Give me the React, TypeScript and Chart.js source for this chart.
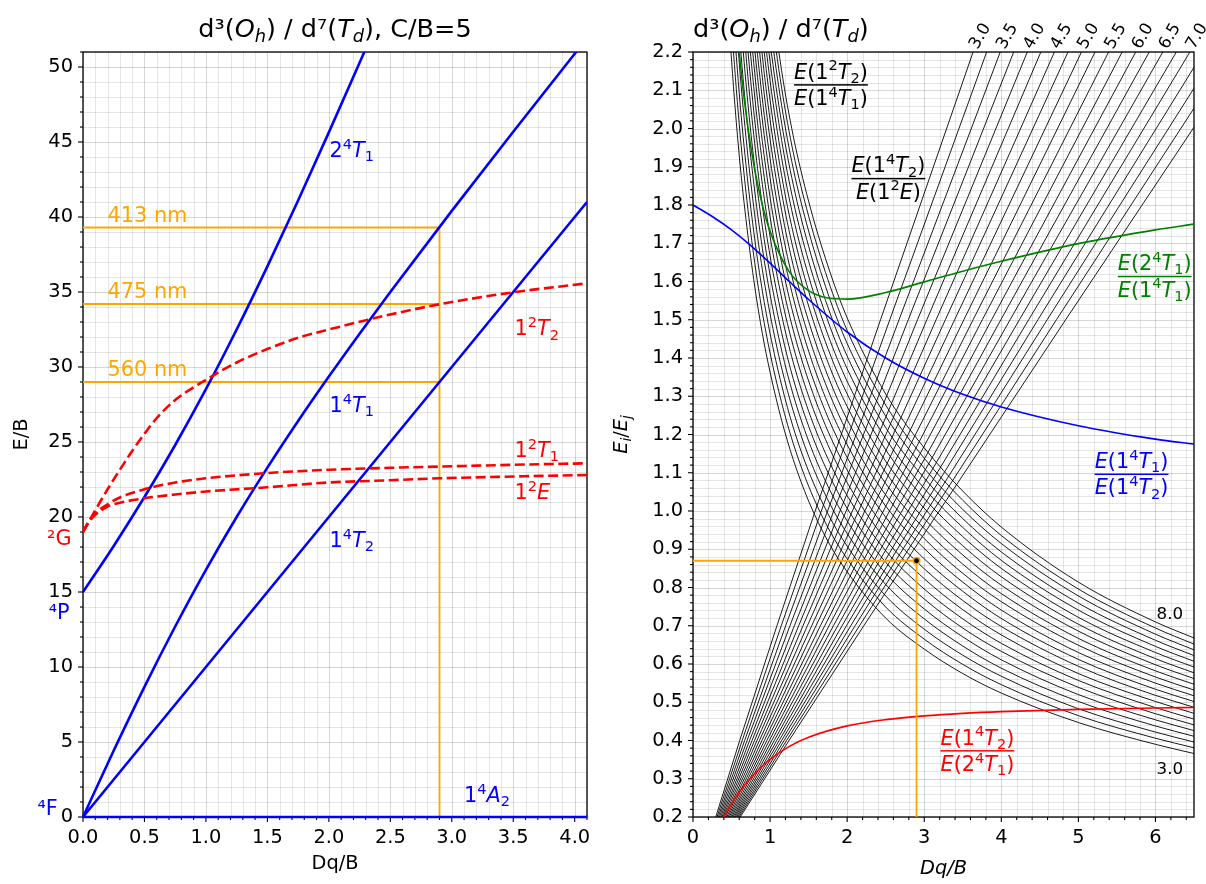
import React, { useEffect, useRef } from "react";
import { Chart, registerables } from "chart.js";

Chart.register(...registerables);

const FONT = '"DejaVu Sans", sans-serif';
const TICK = 19.4;
const LABEL = 19.4;
const ANN = 20.8;
const TITLE = 25.5;
const SMALL = 16.7;

// ---------------- Left panel (C/B = 5) ----------------
const leftXTicks = [0, 0.5, 1, 1.5, 2, 2.5, 3, 3.5, 4];
const leftXTickLabels = ["0.0", "0.5", "1.0", "1.5", "2.0", "2.5", "3.0", "3.5", "4.0"];
const leftYTicks = [0, 5, 10, 15, 20, 25, 30, 35, 40, 45, 50];
const leftYTickLabels = ["0", "5", "10", "15", "20", "25", "30", "35", "40", "45", "50"];

const a2Dq = [0, 4.1];
const a2E = [0, 0];
const q4T2Dq = [0, 1, 2, 3, 4.1];
const q4T2E = [0, 10, 20, 30, 41];
const q4T1aDq = [0, 0.25, 0.5, 0.75, 1, 1.25, 1.5, 1.75, 2, 2.25, 2.5, 3, 3.5, 4, 4.1];
const q4T1aE = [0, 4.43, 8.68, 12.7, 16.48, 20.0, 23.29, 26.4, 29.36, 32.22, 35.0, 40.41, 45.68, 50.88, 51.91];
const q4T1bDq = [0, 0.25, 0.5, 0.75, 1, 1.25, 1.5, 1.75, 2, 2.25, 2.5];
const q4T1bE = [15, 18.07, 21.33, 24.8, 28.52, 32.5, 36.71, 41.1, 45.64, 50.28, 55.0];
const d2EDq = [0, 0.05, 0.1, 0.2, 0.3, 0.5, 0.75, 1.0, 1.5, 2.0, 2.5, 2.9, 3.5, 4.1];
const d2EE = [19.0, 19.7, 20.15, 20.7, 20.95, 21.25, 21.5, 21.7, 21.98, 22.3, 22.45, 22.58, 22.7, 22.8];
const d2T1Dq = [0, 0.05, 0.1, 0.2, 0.3, 0.5, 0.75, 1.0, 1.5, 2.0, 2.5, 2.9, 3.5, 4.1];
const d2T1E = [19.0, 19.75, 20.25, 20.85, 21.3, 21.85, 22.3, 22.58, 22.93, 23.15, 23.28, 23.36, 23.48, 23.58];
const d2T2Dq = [0, 0.1, 0.2, 0.3, 0.4, 0.5, 0.6, 0.75, 0.9, 1.0, 1.25, 1.5, 1.75, 2.0, 2.5, 2.9, 3.5, 4.1];
const d2T2E = [19.0, 20.45, 21.85, 23.15, 24.4, 25.55, 26.6, 27.8, 28.65, 29.15, 30.3, 31.2, 31.95, 32.5, 33.5, 34.18, 34.98, 35.58];

const bandLabels = ["413 nm", "475 nm", "560 nm"];
const bandEnergies = [39.3, 34.2, 29.0];
const bandDq = 2.9;

// ---------------- Right panel (ratios) ----------------
const rightXTicks = [0, 1, 2, 3, 4, 5, 6];
const rightXTickLabels = ["0", "1", "2", "3", "4", "5", "6"];
const rightYTicks = [0.2, 0.3, 0.4, 0.5, 0.6, 0.7, 0.8, 0.9, 1.0, 1.1, 1.2, 1.3, 1.4, 1.5, 1.6, 1.7, 1.8, 1.9, 2.0, 2.1, 2.2];
const rightYTickLabels = ["0.2", "0.3", "0.4", "0.5", "0.6", "0.7", "0.8", "0.9", "1.0", "1.1", "1.2", "1.3", "1.4", "1.5", "1.6", "1.7", "1.8", "1.9", "2.0", "2.1", "2.2"];

const cbValues = [3.0, 3.25, 3.5, 3.75, 4.0, 4.25, 4.5, 4.75, 5.0, 5.25, 5.5, 5.75, 6.0, 6.25, 6.5, 6.75, 7.0, 7.25, 7.5, 7.75, 8.0];
const cbTopLabels = ["3.0", "3.5", "4.0", "4.5", "5.0", "5.5", "6.0", "6.5", "7.0"];

// E(1²T2)/E(1⁴T1): rows at decDq, one column per C/B value
const decDq = [0.45, 0.5, 0.6, 0.7, 0.8, 0.9, 1.0, 1.15, 1.3, 1.5, 1.75, 2.0, 2.5, 3.0, 3.5, 4.0, 5.0, 6.0, 6.5];
const decRatios = [
  [2.340, 2.447, 2.554, 2.660, 2.767, 2.874, 2.981, 3.087, 3.194, 3.301, 3.408, 3.514, 3.621, 3.728, 3.835, 3.941, 4.048, 4.155, 4.262, 4.369, 4.475],
  [2.179, 2.275, 2.372, 2.468, 2.565, 2.661, 2.758, 2.854, 2.951, 3.048, 3.144, 3.241, 3.337, 3.434, 3.530, 3.627, 3.723, 3.820, 3.916, 4.013, 4.109],
  [1.929, 2.011, 2.092, 2.173, 2.254, 2.335, 2.417, 2.498, 2.579, 2.660, 2.741, 2.823, 2.904, 2.985, 3.066, 3.147, 3.228, 3.310, 3.391, 3.472, 3.553],
  [1.741, 1.811, 1.881, 1.952, 2.022, 2.092, 2.163, 2.233, 2.303, 2.373, 2.444, 2.514, 2.584, 2.654, 2.725, 2.795, 2.865, 2.936, 3.006, 3.076, 3.147],
  [1.588, 1.650, 1.712, 1.775, 1.837, 1.899, 1.961, 2.023, 2.085, 2.147, 2.209, 2.271, 2.334, 2.396, 2.458, 2.520, 2.582, 2.644, 2.706, 2.769, 2.831],
  [1.464, 1.519, 1.575, 1.631, 1.687, 1.743, 1.798, 1.854, 1.910, 1.966, 2.022, 2.077, 2.133, 2.189, 2.245, 2.301, 2.356, 2.412, 2.468, 2.524, 2.580],
  [1.363, 1.413, 1.464, 1.515, 1.566, 1.617, 1.667, 1.718, 1.769, 1.820, 1.871, 1.921, 1.972, 2.023, 2.074, 2.125, 2.175, 2.226, 2.277, 2.328, 2.379],
  [1.237, 1.283, 1.329, 1.374, 1.420, 1.466, 1.512, 1.557, 1.603, 1.649, 1.694, 1.740, 1.786, 1.832, 1.877, 1.923, 1.969, 2.014, 2.060, 2.106, 2.151],
  [1.135, 1.177, 1.219, 1.262, 1.304, 1.346, 1.389, 1.431, 1.473, 1.515, 1.558, 1.600, 1.642, 1.685, 1.727, 1.769, 1.811, 1.854, 1.896, 1.938, 1.981],
  [1.026, 1.065, 1.104, 1.143, 1.183, 1.222, 1.261, 1.300, 1.340, 1.379, 1.418, 1.457, 1.496, 1.536, 1.575, 1.614, 1.653, 1.692, 1.732, 1.771, 1.810],
  [0.921, 0.957, 0.993, 1.029, 1.065, 1.101, 1.137, 1.173, 1.209, 1.245, 1.281, 1.317, 1.353, 1.389, 1.425, 1.461, 1.497, 1.533, 1.569, 1.605, 1.641],
  [0.841, 0.875, 0.908, 0.941, 0.974, 1.007, 1.040, 1.074, 1.107, 1.140, 1.173, 1.206, 1.239, 1.273, 1.306, 1.339, 1.372, 1.405, 1.438, 1.472, 1.505],
  [0.720, 0.749, 0.778, 0.808, 0.837, 0.866, 0.896, 0.925, 0.954, 0.984, 1.013, 1.042, 1.072, 1.101, 1.130, 1.160, 1.189, 1.218, 1.248, 1.277, 1.306],
  [0.639, 0.665, 0.691, 0.718, 0.744, 0.770, 0.796, 0.823, 0.849, 0.875, 0.902, 0.928, 0.954, 0.980, 1.007, 1.033, 1.059, 1.086, 1.112, 1.138, 1.165],
  [0.575, 0.599, 0.623, 0.647, 0.671, 0.694, 0.718, 0.742, 0.766, 0.790, 0.814, 0.837, 0.861, 0.885, 0.909, 0.933, 0.957, 0.980, 1.004, 1.028, 1.052],
  [0.524, 0.546, 0.568, 0.589, 0.611, 0.633, 0.654, 0.676, 0.698, 0.719, 0.741, 0.763, 0.784, 0.806, 0.828, 0.850, 0.871, 0.893, 0.915, 0.936, 0.958],
  [0.447, 0.465, 0.483, 0.502, 0.520, 0.539, 0.557, 0.575, 0.594, 0.612, 0.630, 0.649, 0.667, 0.686, 0.704, 0.722, 0.741, 0.759, 0.778, 0.796, 0.814],
  [0.390, 0.406, 0.422, 0.438, 0.454, 0.470, 0.486, 0.502, 0.518, 0.534, 0.550, 0.566, 0.582, 0.598, 0.614, 0.630, 0.646, 0.662, 0.678, 0.694, 0.710],
  [0.366, 0.381, 0.396, 0.411, 0.426, 0.441, 0.456, 0.471, 0.487, 0.502, 0.517, 0.532, 0.547, 0.562, 0.577, 0.592, 0.607, 0.622, 0.637, 0.652, 0.668],
];

// E(1⁴T2)/E(1²E): Dq/B positions at each ratio level, one column per C/B value
const incLevels = [0.2, 0.4, 0.7, 1.0, 1.5, 2.2];
const incDq = [
  [0.295, 0.311, 0.327, 0.343, 0.359, 0.375, 0.390, 0.406, 0.422, 0.438, 0.454, 0.470, 0.486, 0.502, 0.518, 0.534, 0.549, 0.565, 0.581, 0.597, 0.613],
  [0.606, 0.638, 0.670, 0.702, 0.734, 0.766, 0.798, 0.830, 0.862, 0.894, 0.926, 0.958, 0.990, 1.022, 1.054, 1.086, 1.118, 1.150, 1.182, 1.214, 1.246],
  [1.089, 1.145, 1.202, 1.258, 1.315, 1.371, 1.427, 1.484, 1.540, 1.596, 1.653, 1.709, 1.765, 1.822, 1.878, 1.934, 1.991, 2.047, 2.103, 2.160, 2.216],
  [1.585, 1.665, 1.746, 1.826, 1.907, 1.987, 2.068, 2.148, 2.229, 2.309, 2.390, 2.470, 2.550, 2.631, 2.711, 2.792, 2.872, 2.953, 3.033, 3.114, 3.194],
  [2.433, 2.553, 2.673, 2.793, 2.913, 3.034, 3.154, 3.274, 3.394, 3.514, 3.634, 3.754, 3.874, 3.994, 4.114, 4.235, 4.355, 4.475, 4.595, 4.715, 4.835],
  [3.634, 3.810, 3.986, 4.161, 4.337, 4.513, 4.689, 4.865, 5.040, 5.216, 5.392, 5.568, 5.744, 5.919, 6.095, 6.271, 6.447, 6.623, 6.798, 6.974, 7.150],
];

const greenDq = [0.5, 0.6, 0.7, 0.8, 0.9, 1.0, 1.25, 1.5, 1.75, 2.0, 2.5, 3.0, 3.5, 4.0, 5.0, 6.0, 6.5];
const greenRatio = [2.458, 2.199, 2.021, 1.893, 1.8, 1.731, 1.625, 1.576, 1.557, 1.554, 1.571, 1.599, 1.627, 1.653, 1.699, 1.735, 1.75];
const blueDq = [0, 0.25, 0.5, 0.75, 1.0, 1.25, 1.5, 2.0, 2.5, 3.0, 3.5, 4.0, 5.0, 6.0, 6.5];
const blueRatio = [1.8, 1.77, 1.735, 1.694, 1.648, 1.6, 1.553, 1.468, 1.4, 1.347, 1.305, 1.272, 1.223, 1.188, 1.175];
const redDq = [0.3, 0.4, 0.5, 0.6, 0.7, 0.8, 0.9, 1.0, 1.25, 1.5, 2.0, 2.5, 3.0, 3.5, 4.0, 5.0, 6.0, 6.5];
const redRatio = [0.16, 0.2, 0.2345, 0.2645, 0.2907, 0.3135, 0.3333, 0.3506, 0.3846, 0.4086, 0.4382, 0.4545, 0.4644, 0.471, 0.4755, 0.4814, 0.4851, 0.4864];

const markDq = 2.9;
const markRatio = 0.87;

// ---------------- helpers ----------------
type Seg = [string, string];

function fontFor(style: string, size: number) {
  const small = style.includes("^") || style.includes("_");
  const it = style.includes("i");
  return `${it ? "italic " : ""}${(small ? size * 0.7 : size).toFixed(2)}px ${FONT}`;
}
function richWidth(ctx: CanvasRenderingContext2D, segs: Seg[], size: number) {
  let w = 0;
  for (const [t, s] of segs) {
    ctx.font = fontFor(s, size);
    w += ctx.measureText(t).width;
  }
  return w;
}
function drawRich(ctx: CanvasRenderingContext2D, segs: Seg[], x: number, baseline: number, size: number, color: string, align = "left") {
  const w = richWidth(ctx, segs, size);
  let cx = align === "left" ? x : align === "center" ? x - w / 2 : x - w;
  ctx.fillStyle = color;
  ctx.textAlign = "left";
  ctx.textBaseline = "alphabetic";
  for (const [t, s] of segs) {
    ctx.font = fontFor(s, size);
    let dy = 0;
    if (s.includes("^")) dy = -0.4 * size;
    else if (s.includes("_")) dy = 0.2 * size;
    ctx.fillText(t, cx, baseline + dy);
    cx += ctx.measureText(t).width;
  }
  return w;
}
function drawFrac(ctx: CanvasRenderingContext2D, num: Seg[], den: Seg[], cx: number, barY: number, size: number, color: string) {
  const w = Math.max(richWidth(ctx, num, size), richWidth(ctx, den, size));
  drawRich(ctx, num, cx, barY - 0.3 * size, size, color, "center");
  drawRich(ctx, den, cx, barY + 0.97 * size, size, color, "center");
  ctx.fillStyle = color;
  ctx.fillRect(cx - w / 2, barY - 0.75, w, 1.5);
}
function pts(xs: number[], ys: number[]) {
  return xs.map((x, i) => ({ x, y: ys[i] }));
}
function steps(start: number, end: number, step: number) {
  const out: number[] = [];
  const n = Math.round((end - start) / step);
  for (let i = 0; i <= n; i++) {
    const v = start + i * step;
    if (v <= end + 1e-9) out.push(+v.toFixed(6));
  }
  return out;
}

function makeDeco(cfg: any) {
  return {
    id: "deco_" + cfg.name,
    beforeDatasetsDraw(chart: any) {
      const { ctx, chartArea: ca, scales } = chart;
      const xs = scales.x;
      const ys = scales.y;
      ctx.save();
      const isMajor = (v: number, arr: number[]) => arr.some((m) => Math.abs(m - v) < 1e-6);
      for (const v of steps(cfg.xMin, cfg.xMax, cfg.xMinor)) {
        const p = Math.round(xs.getPixelForValue(v)) + 0.5;
        ctx.strokeStyle = isMajor(v, cfg.xMajor) ? "rgba(0,0,0,0.16)" : "rgba(0,0,0,0.10)";
        ctx.lineWidth = 1;
        ctx.beginPath();
        ctx.moveTo(p, ca.top);
        ctx.lineTo(p, ca.bottom);
        ctx.stroke();
      }
      for (const v of steps(cfg.yMin, cfg.yMax, cfg.yMinor)) {
        const p = Math.round(ys.getPixelForValue(v)) + 0.5;
        ctx.strokeStyle = isMajor(v, cfg.yMajor) ? "rgba(0,0,0,0.16)" : "rgba(0,0,0,0.10)";
        ctx.lineWidth = 1;
        ctx.beginPath();
        ctx.moveTo(ca.left, p);
        ctx.lineTo(ca.right, p);
        ctx.stroke();
      }
      ctx.strokeStyle = "#000";
      ctx.lineWidth = 1.1;
      for (const v of steps(cfg.xMin, cfg.xMax, cfg.xMinor)) {
        const p = xs.getPixelForValue(v);
        const len = isMajor(v, cfg.xMajor) ? 5 : 3;
        ctx.beginPath();
        ctx.moveTo(p, ca.bottom);
        ctx.lineTo(p, ca.bottom + len);
        ctx.stroke();
      }
      for (const v of steps(cfg.yMin, cfg.yMax, cfg.yMinor)) {
        const p = ys.getPixelForValue(v);
        const len = isMajor(v, cfg.yMajor) ? 5 : 3;
        ctx.beginPath();
        ctx.moveTo(ca.left, p);
        ctx.lineTo(ca.left - len, p);
        ctx.stroke();
      }
      ctx.lineWidth = 1.3;
      ctx.strokeRect(ca.left, ca.top, ca.right - ca.left, ca.bottom - ca.top);
      ctx.restore();
    },
    afterDraw(chart: any) {
      const { ctx } = chart;
      ctx.save();
      cfg.annotate(chart, ctx);
      ctx.restore();
    },
  };
}

function xScale(min: number, max: number, ticks: number[], labels: string[], height: number) {
  return {
    type: "linear",
    min,
    max,
    grid: { display: false, drawTicks: false },
    border: { display: false },
    afterBuildTicks: (s: any) => {
      s.ticks = ticks.map((v) => ({ value: v }));
    },
    afterFit: (s: any) => {
      s.height = height;
    },
    ticks: {
      color: "#000",
      font: { family: FONT, size: TICK },
      padding: 9,
      maxRotation: 0,
      minRotation: 0,
      autoSkip: false,
      callback: (_v: any, i: number) => labels[i],
    },
  };
}
function yScale(min: number, max: number, ticks: number[], labels: string[], width: number) {
  return {
    type: "linear",
    min,
    max,
    grid: { display: false, drawTicks: false },
    border: { display: false },
    afterBuildTicks: (s: any) => {
      s.ticks = ticks.map((v) => ({ value: v }));
    },
    afterFit: (s: any) => {
      s.width = width;
    },
    ticks: {
      color: "#000",
      font: { family: FONT, size: TICK },
      padding: 10,
      autoSkip: false,
      callback: (_v: any, i: number) => labels[i],
    },
  };
}

const BLUE = "#0000ff";
const RED = "#ff0000";
const ORANGE = "#ffa500";
const GREEN = "#008000";

const titleSegs: Seg[] = [["d³(", ""], ["O", "i"], ["h", "_i"], [") / d⁷(", ""], ["T", "i"], ["d", "_i"], [")", ""]];

function leftConfig(): any {
  const line = (data: any, color: string, width: number, extra: any = {}) => ({
    data,
    borderColor: color,
    borderWidth: width,
    pointRadius: 0,
    fill: false,
    cubicInterpolationMode: "monotone",
    clip: { left: 2, top: 0, right: 0, bottom: 2 },
    ...extra,
  });
  const dash = { borderDash: [10, 4.5] };
  const datasets = [
    line(pts(d2T2Dq, d2T2E), RED, 2.6, dash),
    line(pts(d2T1Dq, d2T1E), RED, 2.6, dash),
    line(pts(d2EDq, d2EE), RED, 2.6, dash),
    line(pts(q4T1bDq, q4T1bE), BLUE, 2.6),
    line(pts(q4T1aDq, q4T1aE), BLUE, 2.6),
    line(pts(q4T2Dq, q4T2E), BLUE, 2.6),
    line(pts(a2Dq, a2E), BLUE, 2.6),
    ...bandEnergies.map((e) => line([{ x: 0, y: e }, { x: bandDq, y: e }], ORANGE, 1.8)),
    line([{ x: bandDq, y: 0 }, { x: bandDq, y: Math.max(...bandEnergies) }], ORANGE, 1.8),
  ];
  const annotate = (chart: any, ctx: CanvasRenderingContext2D) => {
    const ca = chart.chartArea;
    const xs = chart.scales.x;
    const ys = chart.scales.y;
    const X = (v: number) => xs.getPixelForValue(v);
    const Y = (v: number) => ys.getPixelForValue(v);
    const tsegs: Seg[] = [...titleSegs, [", C/B=5", ""]];
    drawRich(ctx, tsegs, (ca.left + ca.right) / 2, 37, TITLE, "#000", "center");
    drawRich(ctx, [["Dq/B", ""]], (ca.left + ca.right) / 2, 869, LABEL, "#000", "center");
    ctx.save();
    ctx.translate(27, (ca.top + ca.bottom) / 2);
    ctx.rotate(-Math.PI / 2);
    drawRich(ctx, [["E/B", ""]], 0, 0, LABEL, "#000", "center");
    ctx.restore();
    bandEnergies.forEach((e, i) => {
      drawRich(ctx, [[bandLabels[i], ""]], X(0.2), Y(e) - 6, ANN, ORANGE, "left");
    });
    const mid = (yc: number) => Y(yc) + 0.355 * ANN;
    drawRich(ctx, [["2", ""], ["4", "^"], ["T", "i"], ["1", "_"]], X(2.006), mid(44.5), ANN, BLUE);
    drawRich(ctx, [["1", ""], ["4", "^"], ["T", "i"], ["1", "_"]], X(2.006), mid(27.5), ANN, BLUE);
    drawRich(ctx, [["1", ""], ["4", "^"], ["T", "i"], ["2", "_"]], X(2.006), mid(18.5), ANN, BLUE);
    drawRich(ctx, [["1", ""], ["4", "^"], ["A", "i"], ["2", "_"]], X(3.1), mid(1.5), ANN, BLUE);
    drawRich(ctx, [["1", ""], ["2", "^"], ["T", "i"], ["2", "_"]], X(3.51), mid(32.6), ANN, RED);
    drawRich(ctx, [["1", ""], ["2", "^"], ["T", "i"], ["1", "_"]], X(3.51), mid(24.5), ANN, RED);
    drawRich(ctx, [["1", ""], ["2", "^"], ["E", "i"]], X(3.51), mid(21.7), ANN, RED);
    const midT = (yc: number) => Y(yc) + 0.36 * ANN;
    drawRich(ctx, [["²G", ""]], X(-0.093), midT(18.6), ANN, RED, "right");
    drawRich(ctx, [["⁴P", ""]], X(-0.109), midT(13.7), ANN, BLUE, "right");
    drawRich(ctx, [["⁴F", ""]], X(-0.206), midT(0.6), ANN, BLUE, "right");
  };
  return {
    type: "line",
    data: { datasets },
    options: {
      responsive: false,
      animation: false,
      devicePixelRatio: 1,
      events: [],
      parsing: false,
      layout: { padding: { top: 52, right: 16, left: 0, bottom: 0 } },
      plugins: { legend: { display: false }, tooltip: { enabled: false }, title: { display: false } },
      scales: {
        x: xScale(0, 4.1, leftXTicks, leftXTickLabels, 67),
        y: yScale(0, 51, leftYTicks, leftYTickLabels, 83),
      },
    },
    plugins: [
      makeDeco({ name: "left", xMin: 0, xMax: 4.1, xMinor: 0.1, xMajor: leftXTicks, yMin: 0, yMax: 51, yMinor: 1, yMajor: leftYTicks, annotate }),
    ],
  };
}

function rightConfig(): any {
  const line = (data: any, color: string, width: number, extra: any = {}) => ({
    data,
    borderColor: color,
    borderWidth: width,
    pointRadius: 0,
    fill: false,
    ...extra,
  });
  const decCurves = cbValues.map((_c, k) =>
    line(decDq.map((x, i) => ({ x, y: decRatios[i][k] })), "#000", 0.9, { cubicInterpolationMode: "monotone" })
  );
  const incCurves = cbValues.map((_c, k) => line(incLevels.map((y, i) => ({ x: incDq[i][k], y })), "#000", 0.9));
  const datasets = [
    line([{ x: markDq, y: markRatio }], ORANGE, 1.8, { pointRadius: 3.2, pointBackgroundColor: "#000", pointBorderColor: ORANGE, pointBorderWidth: 1.6, showLine: false }),
    line([{ x: 0, y: markRatio }, { x: markDq, y: markRatio }], ORANGE, 1.8),
    line([{ x: markDq, y: 0.2 }, { x: markDq, y: markRatio }], ORANGE, 1.8),
    line(pts(redDq, redRatio), RED, 1.6, { cubicInterpolationMode: "monotone" }),
    line(pts(blueDq, blueRatio), BLUE, 1.6, { cubicInterpolationMode: "monotone" }),
    line(pts(greenDq, greenRatio), GREEN, 1.6, { cubicInterpolationMode: "monotone" }),
    ...decCurves,
    ...incCurves,
  ];
  const annotate = (chart: any, ctx: CanvasRenderingContext2D) => {
    const ca = chart.chartArea;
    const xs = chart.scales.x;
    const ys = chart.scales.y;
    const X = (v: number) => xs.getPixelForValue(v);
    const Y = (v: number) => ys.getPixelForValue(v);
    drawRich(ctx, titleSegs, ca.left, 37, TITLE, "#000", "left");
    drawRich(ctx, [["Dq/B", "i"]], (ca.left + ca.right) / 2, 874, LABEL, "#000", "center");
    ctx.save();
    ctx.translate(24, (ca.top + ca.bottom) / 2);
    ctx.rotate(-Math.PI / 2);
    drawRich(ctx, [["E", "i"], ["i", "_i"], ["/", ""], ["E", "i"], ["j", "_i"]], 0, 0, LABEL, "#000", "center");
    ctx.restore();
    const E = (a: string, b: string, c: string, d: string): Seg[] => [["E", "i"], ["(", ""], [a, ""], [b, "^"], [c, "i"], [d, "_"], [")", ""]];
    drawFrac(ctx, E("1", "2", "T", "2"), E("1", "4", "T", "1"), X(1.79), Y(2.114), ANN, "#000");
    drawFrac(ctx, E("1", "4", "T", "2"), [["E", "i"], ["(", ""], ["1", ""], ["2", "^"], ["E", "i"], [")", ""]], X(2.535), Y(1.869), ANN, "#000");
    drawFrac(ctx, E("2", "4", "T", "1"), E("1", "4", "T", "1"), X(5.99), Y(1.613), ANN, GREEN);
    drawFrac(ctx, E("1", "4", "T", "1"), E("1", "4", "T", "2"), X(5.69), Y(1.096), ANN, BLUE);
    drawFrac(ctx, E("1", "4", "T", "2"), E("2", "4", "T", "1"), X(3.69), Y(0.373), ANN, RED);
    drawRich(ctx, [["8.0", ""]], X(6.187), Y(0.734) + 0.36 * SMALL, SMALL, "#000", "center");
    drawRich(ctx, [["3.0", ""]], X(6.187), Y(0.329) + 0.36 * SMALL, SMALL, "#000", "center");
    const top = incDq[incDq.length - 1];
    cbTopLabels.forEach((lab, j) => {
      const k = j * 2;
      const px = X(top[k]);
      ctx.save();
      ctx.translate(px + 4.4, ca.top - 2);
      ctx.rotate(-Math.PI / 3);
      ctx.font = `${SMALL}px ${FONT}`;
      ctx.fillStyle = "#000";
      ctx.textAlign = "left";
      ctx.textBaseline = "alphabetic";
      ctx.fillText(lab, 0, 0);
      ctx.restore();
    });
  };
  return {
    type: "line",
    data: { datasets },
    options: {
      responsive: false,
      animation: false,
      devicePixelRatio: 1,
      events: [],
      parsing: false,
      layout: { padding: { top: 52, right: 12, left: 0, bottom: 0 } },
      plugins: { legend: { display: false }, tooltip: { enabled: false }, title: { display: false } },
      scales: {
        x: xScale(0, 6.5, rightXTicks, rightXTickLabels, 67),
        y: yScale(0.2, 2.2, rightYTicks, rightYTickLabels, 90),
      },
    },
    plugins: [
      makeDeco({ name: "right", xMin: 0, xMax: 6.5, xMinor: 0.2, xMajor: rightXTicks, yMin: 0.2, yMax: 2.2, yMinor: 0.02, yMajor: rightYTicks, annotate }),
    ],
  };
}

export default function App() {
  const leftRef = useRef<HTMLCanvasElement>(null);
  const rightRef = useRef<HTMLCanvasElement>(null);
  useEffect(() => {
    const c1 = new Chart(leftRef.current as HTMLCanvasElement, leftConfig());
    const c2 = new Chart(rightRef.current as HTMLCanvasElement, rightConfig());
    return () => {
      c1.destroy();
      c2.destroy();
    };
  }, []);
  return (
    <div style={{ position: "fixed", left: 0, top: 0, width: 1206, height: 884, background: "#fff" }}>
      <canvas ref={leftRef} width={603} height={884} style={{ position: "absolute", left: 0, top: 0, width: 603, height: 884 }} />
      <canvas ref={rightRef} width={603} height={884} style={{ position: "absolute", left: 603, top: 0, width: 603, height: 884 }} />
    </div>
  );
}
